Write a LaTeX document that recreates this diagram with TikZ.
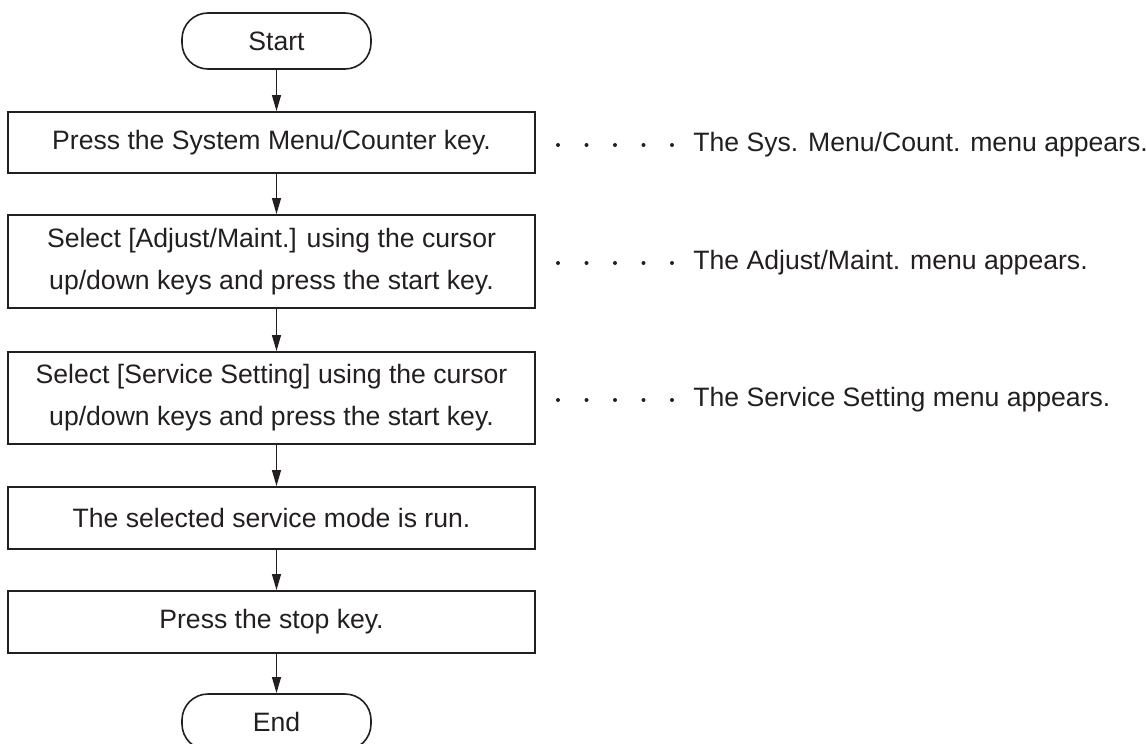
\documentclass[tikz,border=0pt]{standalone}
\usepackage{fontspec}
\setmainfont{Liberation Sans}
\usetikzlibrary{arrows.meta,calc}
\definecolor{ink}{HTML}{231F20}
\begin{document}
\begin{tikzpicture}[x=0.5pt,y=-0.5pt,
  every node/.style={font=\fontsize{13.3}{21}\selectfont, text=ink},
  term/.style={draw=ink, line width=0.8pt, rounded corners=13pt, minimum width=94.5pt, minimum height=28pt, inner sep=0pt},
  stepbox/.style={draw=ink, line width=0.8pt, minimum width=263.5pt, inner sep=0pt, align=center},
  flow/.style={draw=ink, line width=0.8pt, -{Triangle[length=8pt,width=4.4pt]}},
  note/.style={anchor=west, inner sep=0pt}]
\useasboundingbox (0,0) rectangle (1146,744);
\node[term] (start) at (276.5,41) {Start};
\node[stepbox, minimum height=30.5pt] (b1) at (271.5,142.5) {Press the System Menu/Counter key.};
\node[stepbox, minimum height=46.5pt] (b2) at (271.5,261.5) {Select [Adjust/Maint.] using the cursor\\up/down keys and press the start key.};
\node[stepbox, minimum height=46pt] (b3) at (271.5,398) {Select [Service Setting] using the cursor\\up/down keys and press the start key.};
\node[stepbox, minimum height=31pt] (b4) at (271.5,518) {The selected service mode is run.};
\node[stepbox, minimum height=31pt] (b5) at (271.5,622) {Press the stop key.};
\node[term] (end) at (276.5,722) {End};

\draw[flow] (start.south) -- (start.south |- b1.north);
\draw[flow] (b1.south -| start) -- (start |- b2.north);
\draw[flow] (b2.south -| start) -- (start |- b3.north);
\draw[flow] (b3.south -| start) -- (start |- b4.north);
\draw[flow] (b4.south -| start) -- (start |- b5.north);
\draw[flow] (b5.south -| start) -- (end.north);

\node[note] (n1) at (693,145) {The Sys. Menu/Count. menu appears.};
\node[note] (n2) at (693,263) {The Adjust/Maint. menu appears.};
\node[note] (n3) at (693,400) {The Service Setting menu appears.};
\foreach \n in {n1,n2,n3}
  \foreach \k in {0,...,4}
    \fill[ink] ($(\n.west)+({-135+28.5*\k},0)$) circle (1pt);
\end{tikzpicture}
\end{document}
